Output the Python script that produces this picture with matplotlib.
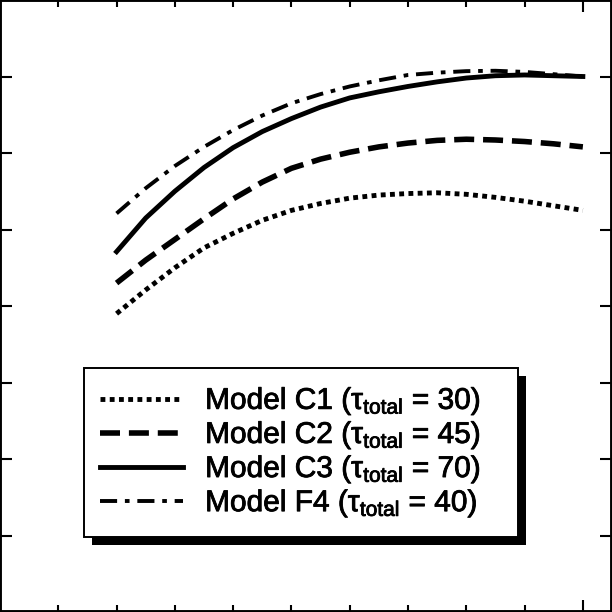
import matplotlib
matplotlib.use("Agg")
import matplotlib.pyplot as plt
import matplotlib.patheffects as pe
from matplotlib.patches import Rectangle

plt.rcParams['font.family'] = ['Liberation Sans', 'DejaVu Sans']
plt.rcParams['mathtext.fontset'] = 'custom'
plt.rcParams['mathtext.rm'] = 'Liberation Sans'
plt.rcParams['mathtext.it'] = 'Liberation Sans'
plt.rcParams['mathtext.default'] = 'regular'

x = [2, 2.5, 3, 3.5, 4, 4.5, 5, 5.5, 6, 6.5, 7, 7.5, 8, 8.5, 9, 9.5, 10]
c1 = [3.90, 4.21, 4.50, 4.76, 4.95, 5.12, 5.25, 5.34, 5.41, 5.45, 5.47, 5.48, 5.46, 5.42, 5.37, 5.31, 5.25]
c2 = [4.30, 4.60, 4.87, 5.14, 5.40, 5.62, 5.80, 5.92, 6.01, 6.08, 6.13, 6.165, 6.18, 6.17, 6.15, 6.12, 6.08]
c3 = [4.71, 5.15, 5.50, 5.81, 6.07, 6.28, 6.45, 6.60, 6.72, 6.80, 6.87, 6.93, 6.98, 7.01, 7.02, 7.01, 7.00]
f4 = [5.21, 5.54, 5.83, 6.08, 6.30, 6.49, 6.65, 6.77, 6.87, 6.95, 7.02, 7.05, 7.07, 7.075, 7.06, 7.03, 7.00]
labels = [r'Model C1 ($\tau_{total}$ = 30)',
          r'Model C2 ($\tau_{total}$ = 45)',
          r'Model C3 ($\tau_{total}$ = 70)',
          r'Model F4 ($\tau_{total}$ = 40)']

W = 612.0
fig = plt.figure(figsize=(6.12, 6.12), dpi=100)
ax = fig.add_axes([0, 0, 1, 1])

ax.plot(x, c1, color='black', lw=3.5, linestyle=(0, (1, 0.9)), label=labels[0])
ax.plot(x, c2, color='black', lw=4.0, linestyle=(0, (3.6, 1.6)), label=labels[1])
ax.plot(x, c3, color='black', lw=3.5, linestyle='-', label=labels[2])
ax.plot(x, f4, color='black', lw=2.8, linestyle=(0, (4.4, 2.0, 1.2, 2.0)), label=labels[3])

ax.set_xlim(0, 10.5)
ax.set_ylim(0, 8)
ax.set_xticks([10])
ax.set_xticks([1, 2, 3, 4, 5, 6, 7, 8, 9], minor=True)
ax.set_yticks([1, 2, 3, 4, 5, 6, 7])
ax.tick_params(which='both', direction='in', top=True, right=True,
               labelbottom=False, labelleft=False, width=1.5, color='black')
ax.tick_params(which='major', length=8.6)
ax.tick_params(which='minor', length=5)
for s in ax.spines.values():
    s.set_linewidth(2.8)

# legend box and shadow (pixel positions measured from top-left)
bx0, bx1, by0, by1 = 84, 518, 368, 537
off = 8
ax.add_patch(Rectangle(((bx0 + off) / W, 1 - (by1 + off) / W), (bx1 - bx0) / W, (by1 - by0) / W,
                       transform=ax.transAxes, facecolor='black', edgecolor='none',
                       zorder=8, clip_on=False))
ax.add_patch(Rectangle((bx0 / W, 1 - by1 / W), (bx1 - bx0) / W, (by1 - by0) / W,
                       transform=ax.transAxes, facecolor='white', edgecolor='black',
                       linewidth=1.4, zorder=9, clip_on=False))

leg = ax.legend(loc='upper left', bbox_to_anchor=(100 / W, 1 - 385 / W), borderaxespad=0,
                frameon=False, fontsize=21.5, handlelength=2.78,
                handletextpad=0.74, labelspacing=0.07, borderpad=0)
leg.set_zorder(10)
for t in leg.get_texts():
    t.set_path_effects([pe.withStroke(linewidth=0.6, foreground='black')])

fig.savefig('out.png', dpi=100)
